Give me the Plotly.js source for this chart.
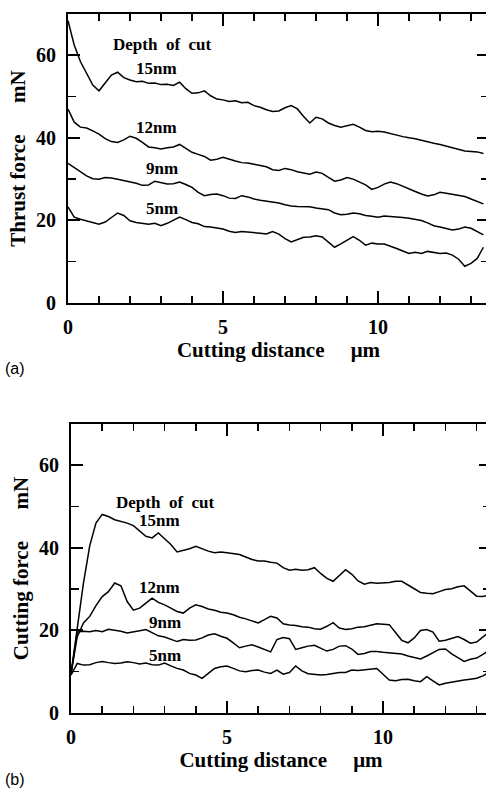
<!DOCTYPE html>
<html>
<head>
<meta charset="utf-8">
<script src="https://cdn.plot.ly/plotly-3.0.1.min.js"></script>
<style>
html, body { margin: 0; padding: 0; overflow: hidden; background: #fff; }
#chart { width: 496px; height: 793px; }
</style>
</head>
<body>
<div id="chart"></div>
<script>
// Cutting distance (µm) sample positions
const distA = [0,0.2,0.4,0.6,0.8,1.0,1.2,1.4,1.6,1.8,2.0,2.2,2.4,2.6,2.8,3.0,3.2,3.4,3.6,3.8,4.0,4.2,4.4,4.6,4.8,5.0,5.2,5.4,5.6,5.8,6.0,6.2,6.4,6.6,6.8,7.0,7.2,7.4,7.6,7.8,8.0,8.2,8.4,8.6,8.8,9.0,9.2,9.4,9.6,9.8,10.0,10.2,10.4,10.6,10.8,11.0,11.2,11.4,11.6,11.8,12.0,12.2,12.4,12.6,12.8,13.0,13.2,13.4];
const distB = [0,0.2,0.4,0.6,0.8,1.0,1.2,1.4,1.6,1.8,2.0,2.2,2.4,2.6,2.8,3.0,3.2,3.4,3.6,3.8,4.0,4.2,4.4,4.6,4.8,5.0,5.2,5.4,5.6,5.8,6.0,6.2,6.4,6.6,6.8,7.0,7.2,7.4,7.6,7.8,8.0,8.2,8.4,8.6,8.8,9.0,9.2,9.4,9.6,9.8,10.0,10.2,10.4,10.6,10.8,11.0,11.2,11.4,11.6,11.8,12.0,12.2,12.4,12.6,12.8,13.0,13.2,13.4];

// (a) Thrust force (mN)
const thrust15 = [68.4,62.5,58.5,55.6,52.8,51.4,53.4,55.2,55.9,54.6,54.0,53.6,53.7,53.2,53.3,52.9,53.0,52.7,53.5,51.9,50.8,50.9,51.4,50.2,49.4,49.2,48.8,49.0,48.5,48.6,47.8,47.4,46.8,46.4,46.5,47.3,47.8,47.0,45.2,43.6,45.0,44.6,43.6,43.0,42.6,43.0,43.3,42.6,41.8,41.5,41.6,41.4,41.0,40.6,40.3,40.0,39.8,39.4,39.0,38.7,38.4,38.0,37.6,37.1,36.8,36.7,36.6,36.2];
const thrust12 = [47.0,43.8,42.6,42.4,41.7,40.9,39.8,39.1,38.9,39.5,40.4,39.9,38.9,37.8,37.6,37.3,37.6,37.8,38.4,37.4,36.5,36.0,35.5,34.6,34.8,35.3,34.8,34.4,34.0,33.9,33.6,33.3,33.0,32.3,32.1,32.6,32.3,31.8,31.5,31.2,31.7,31.4,30.4,29.5,29.8,30.4,30.0,29.3,28.6,27.5,28.0,28.8,29.3,28.9,28.2,27.6,27.0,26.4,25.9,26.2,26.8,26.6,26.3,26.0,25.8,25.2,24.6,24.0];
const thrust9 = [33.8,32.8,31.6,30.8,30.1,30.0,30.4,30.3,30.0,29.7,29.4,29.0,28.5,28.6,29.5,29.2,28.8,28.9,29.3,28.7,28.0,26.8,26.0,26.3,26.4,26.0,25.4,25.3,26.0,25.7,25.2,24.9,24.7,24.4,24.2,23.8,23.5,23.4,23.4,23.3,23.0,22.8,22.6,21.8,21.4,21.5,21.8,21.6,21.2,21.0,20.8,21.1,21.0,20.9,20.7,20.5,20.3,20.0,19.4,18.7,18.4,18.1,17.7,17.9,18.4,18.1,17.3,16.5];
const thrust5 = [23.3,20.8,20.3,19.9,19.5,19.1,19.6,20.6,21.8,21.2,19.9,19.5,19.3,19.1,19.3,18.7,19.3,20.0,20.8,20.2,19.5,19.2,18.5,18.4,18.2,17.9,17.4,17.1,17.3,17.2,17.1,16.9,16.7,17.3,16.7,15.6,14.8,15.3,15.9,16.0,16.3,16.0,14.8,13.5,14.3,15.2,16.1,15.2,14.0,14.5,14.3,14.3,13.8,13.2,12.6,12.0,12.3,12.0,12.5,12.2,12.0,12.1,11.6,10.6,8.9,9.6,10.8,13.5];

// (b) Cutting force (mN)
const cutting15 = [9.5,21.0,31.5,40.5,46.0,48.1,47.6,46.8,46.4,46.0,45.4,44.2,42.8,42.4,43.6,42.2,40.8,39.0,39.4,39.8,40.4,39.8,39.2,38.8,39.0,38.8,38.6,38.4,37.8,37.2,36.8,36.8,36.5,36.3,35.2,34.6,34.8,34.6,34.7,35.2,33.8,32.6,31.9,33.2,34.7,33.6,32.0,31.2,31.6,31.4,31.5,31.6,31.9,31.9,31.0,30.0,29.2,29.0,28.9,29.4,29.9,30.1,30.6,30.8,29.6,28.3,28.2,28.6];
const cutting12 = [9.5,18.5,21.8,23.4,26.0,28.2,29.4,31.5,30.8,27.0,24.9,25.4,26.6,27.8,26.8,26.2,25.4,24.6,24.2,25.4,26.2,25.8,25.2,24.9,24.4,24.2,23.8,23.2,22.8,22.3,21.8,22.6,23.4,23.0,21.6,21.3,21.2,20.9,20.8,20.4,20.3,21.0,21.9,20.6,20.2,20.4,20.8,20.9,21.3,21.6,21.5,21.4,19.5,17.6,17.0,18.2,20.0,20.2,19.6,17.4,17.6,18.0,18.5,17.8,16.9,17.2,18.4,19.6];
const cutting9 = [9.5,19.6,19.8,19.7,20.0,19.7,20.3,20.1,19.8,19.4,19.6,19.9,20.2,19.5,18.7,18.4,17.9,17.3,17.8,17.6,17.7,18.2,18.9,19.2,18.6,18.1,17.0,15.8,16.2,16.5,16.0,15.3,14.8,17.8,18.3,18.0,15.4,15.8,16.2,16.4,15.6,15.0,15.4,16.2,16.3,15.5,14.2,14.4,14.9,14.9,14.7,14.6,14.4,14.3,13.8,13.4,13.1,13.8,14.6,15.4,15.5,14.3,13.4,12.5,13.0,13.3,14.2,15.2];
const cutting5 = [9.2,12.0,11.6,11.7,12.2,12.5,12.2,12.0,12.1,12.4,12.2,11.9,12.1,11.7,11.6,12.1,11.4,10.8,10.4,9.6,9.2,8.4,9.6,10.8,11.2,11.4,10.8,10.2,10.0,10.3,10.4,9.9,9.6,10.4,9.4,9.8,11.4,10.2,9.5,9.4,9.2,9.3,9.6,9.8,9.8,10.4,10.3,10.5,10.7,10.8,9.4,8.0,7.8,8.1,8.2,7.8,7.6,8.8,7.8,6.8,7.2,7.5,7.7,8.0,8.2,8.4,9.0,9.8];

const depthLabels = ['15nm','12nm','9nm','5nm'];
const xTickVals = [0,5,10];
const xTickText = ['0','5','10'];
const yTickVals = [0,20,40,60];
const yTickText = ['0','20','40','60'];

const W = 496, H = 793;
const serif = 'Liberation Serif';
const lineStyle = {color: '#000', width: 1.5};

function tr(x, y, xa, ya) {
  return {x: x, y: y, xaxis: xa, yaxis: ya, type: 'scatter', mode: 'lines', line: lineStyle, showlegend: false, hoverinfo: 'skip'};
}
const data = [
  tr(distA, thrust15, 'x', 'y'), tr(distA, thrust12, 'x', 'y'), tr(distA, thrust9, 'x', 'y'), tr(distA, thrust5, 'x', 'y'),
  tr(distB, cutting15, 'x2', 'y2'), tr(distB, cutting12, 'x2', 'y2'), tr(distB, cutting9, 'x2', 'y2'), tr(distB, cutting5, 'x2', 'y2')
];

const tickFont = {family: serif, size: 20, color: '#000', weight: 'bold'};
const titleFont = {family: serif, size: 21, color: '#000', weight: 'bold'};
function xAxis(domain, range, anchor) {
  return {
    domain: domain, range: range, anchor: anchor,
    showline: true, linewidth: 2, linecolor: '#000', mirror: 'ticks',
    ticks: 'inside', ticklen: 12, tickwidth: 2, tickcolor: '#000',
    tickvals: xTickVals, ticktext: xTickText, tickfont: tickFont, ticklabelstandoff: 5,
    minor: {dtick: 1, tick0: 0, ticks: 'inside', ticklen: 7, tickwidth: 1.5, tickcolor: '#000', showgrid: false},
    showgrid: false, zeroline: false, automargin: false,
    title: {text: 'Cutting distance\u00A0\u00A0\u00A0\u00A0\u00A0μm', font: titleFont, standoff: 1}
  };
}
function yAxis(domain, anchor, title) {
  return {
    domain: domain, range: [0, 70], anchor: anchor,
    showline: true, linewidth: 2, linecolor: '#000', mirror: 'ticks',
    ticks: 'inside', ticklen: 12, tickwidth: 2, tickcolor: '#000',
    tickvals: yTickVals, ticktext: yTickText, tickfont: tickFont, ticklabelstandoff: 6,
    minor: {dtick: 10, tick0: 0, ticks: 'inside', ticklen: 8, tickwidth: 1.5, tickcolor: '#000', showgrid: false},
    showgrid: false, zeroline: false, automargin: false,
    title: {text: title, font: titleFont, standoff: 5}
  };
}

const annFont = {family: serif, size: 17, color: '#000', weight: 'bold'};
function lab(text, x, y, xa, ya) {
  return {text: text, x: x, y: y, xref: xa, yref: ya, showarrow: false, font: annFont, xanchor: 'center', yanchor: 'middle'};
}
const annotations = [
  lab('Depth\u00A0\u00A0of\u00A0\u00A0cut', 3.05, 62.7, 'x', 'y'),
  lab(depthLabels[0], 2.87, 56.9, 'x', 'y'),
  lab(depthLabels[1], 2.87, 42.5, 'x', 'y'),
  lab(depthLabels[2], 3.02, 32.6, 'x', 'y'),
  lab(depthLabels[3], 3.02, 22.8, 'x', 'y'),
  lab('Depth\u00A0\u00A0of\u00A0\u00A0cut', 3.03, 51.1, 'x2', 'y2'),
  lab(depthLabels[0], 2.85, 46.6, 'x2', 'y2'),
  lab(depthLabels[1], 2.85, 30.5, 'x2', 'y2'),
  lab(depthLabels[2], 3.0, 22.0, 'x2', 'y2'),
  lab(depthLabels[3], 3.0, 13.9, 'x2', 'y2'),
  {text: '(a)', x: 3 / W, y: 1 - 368 / H, xref: 'paper', yref: 'paper', xanchor: 'left', yanchor: 'middle', showarrow: false,
   font: {family: 'Liberation Sans', size: 16, color: '#000'}},
  {text: '(b)', x: 3 / W, y: 1 - 779 / H, xref: 'paper', yref: 'paper', xanchor: 'left', yanchor: 'middle', showarrow: false,
   font: {family: 'Liberation Sans', size: 16, color: '#000'}}
];

const layout = {
  width: W, height: H,
  margin: {l: 0, r: 0, t: 0, b: 0},
  paper_bgcolor: '#fff', plot_bgcolor: '#fff',
  showlegend: false,
  font: {family: serif, color: '#000'},
  xaxis: xAxis([68 / W, 489 / W], [0, 13.58], 'y'),
  yaxis: yAxis([1 - 303 / H, 1 - 14 / H], 'x', 'Thrust force\u00A0\u00A0\u00A0\u00A0\u00A0\u00A0mN'),
  xaxis2: xAxis([71 / W, 491 / W], [0, 13.46], 'y2'),
  yaxis2: yAxis([1 - 713 / H, 1 - 424 / H], 'x2', 'Cutting force\u00A0\u00A0\u00A0\u00A0\u00A0\u00A0mN'),
  annotations: annotations
};

Plotly.newPlot('chart', data, layout, {staticPlot: true, displayModeBar: false});
</script>
</body>
</html>
